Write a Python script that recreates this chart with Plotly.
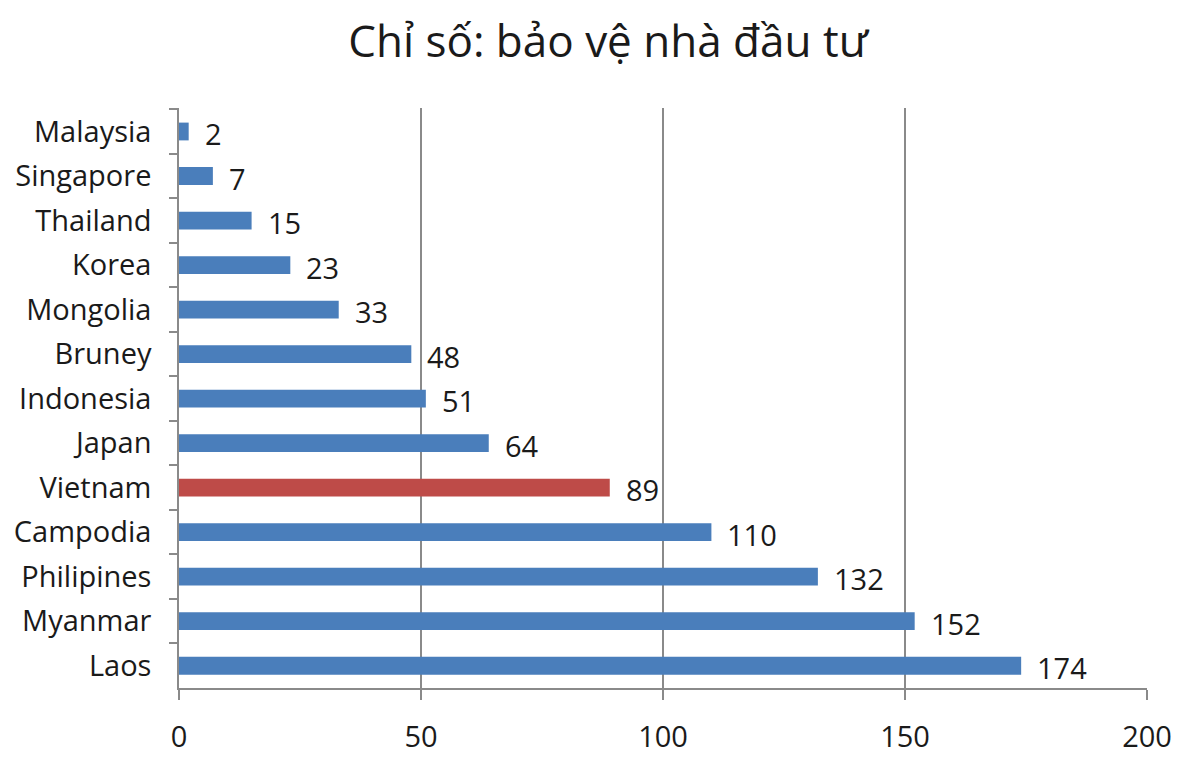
import plotly.graph_objects as go

countries = ["Malaysia", "Singapore", "Thailand", "Korea", "Mongolia", "Bruney", "Indonesia",
             "Japan", "Vietnam", "Campodia", "Philipines", "Myanmar", "Laos"]
values = [2, 7, 15, 23, 33, 48, 51, 64, 89, 110, 132, 152, 174]
x_ticks = [0, 50, 100, 150, 200]

blue = "#4a7ebb"
red = "#be4b48"
colors = [red if c == "Vietnam" else blue for c in countries]
font_name = "Open Sans, Lato, sans-serif"
txt_col = "#1a1a1a"

fig = go.Figure(go.Bar(
    x=values,
    y=countries,
    orientation="h",
    marker=dict(color=colors, line=dict(width=0)),
    width=0.4,
))

# value labels beside the bars
for c, v in zip(countries, values):
    fig.add_annotation(x=v, y=c, text=str(v), showarrow=False, xanchor="left",
                       xshift=14, yshift=-2, font=dict(size=29, color=txt_col, family=font_name))

fig.update_layout(
    title=dict(text="Chỉ số: bảo vệ nhà đầu tư", x=0.5, xanchor="center", y=0.956, yanchor="middle",
               font=dict(size=44, color=txt_col, family=font_name)),
    width=1200, height=763,
    margin=dict(l=171, r=61, t=100, b=83),
    plot_bgcolor="white",
    paper_bgcolor="white",
    showlegend=False,
    xaxis=dict(
        range=[0, 200], tickvals=x_ticks, showgrid=True, gridcolor="#8a8a8a", gridwidth=1.5,
        showline=True, linecolor="#8a8a8a", linewidth=1.5, ticks="outside", ticklen=10,
        tickcolor="#8a8a8a", tickwidth=1.5, ticklabelstandoff=12, zeroline=False,
        automargin=False, tickfont=dict(size=29, color=txt_col, family=font_name),
    ),
    yaxis=dict(
        categoryorder="array", categoryarray=countries, autorange="reversed",
        showline=True, linecolor="#8a8a8a", linewidth=1.5, ticks="outside", tickson="boundaries",
        ticklen=8, tickcolor="#8a8a8a", tickwidth=1.5, ticklabelstandoff=20, showgrid=False,
        automargin=False, tickfont=dict(size=29, color=txt_col, family=font_name),
    ),
)

fig.write_html("out.html")
